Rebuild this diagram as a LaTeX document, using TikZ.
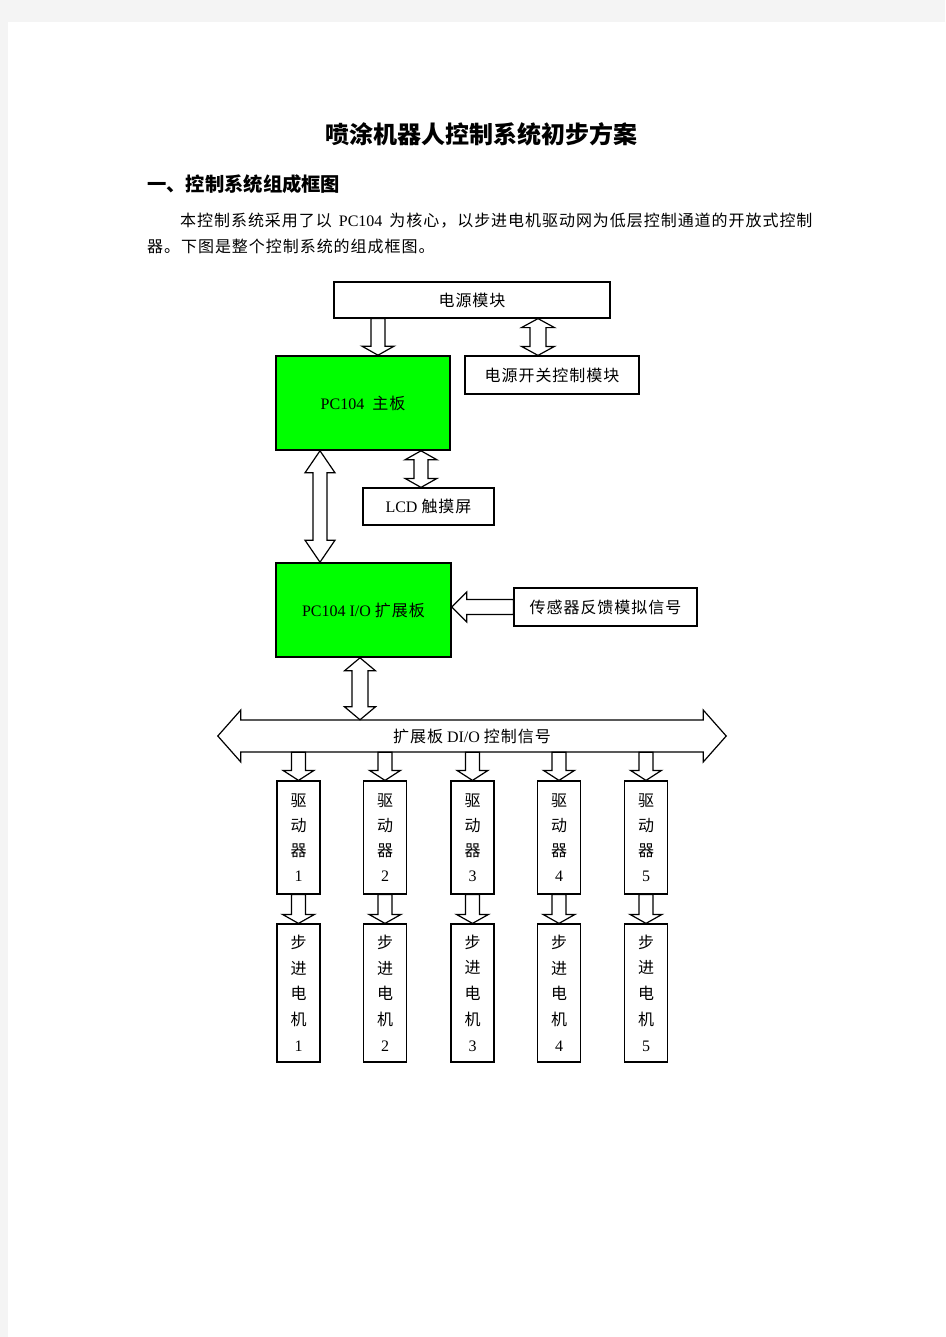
\documentclass[tikz,border=0pt]{standalone}
\usepackage{fontspec}
\setmainfont{Liberation Serif}
\newfontfamily\cjk{Noto Sans CJK SC}[LetterSpace=6]
\newfontfamily\hei{Noto Sans CJK SC}
\usetikzlibrary{calc}

\definecolor{pagegray}{HTML}{F4F4F4}
\definecolor{boardgreen}{HTML}{00FF00}

\tikzset{
  box/.style={draw, line width=1.2pt, inner sep=0pt, font=\fontsize{16}{20}\selectfont},
  board/.style={box, fill=boardgreen, line width=1.6pt},
  drvbox/.style={box, minimum width=43pt, minimum height=113pt, align=center, font=\fontsize{16}{25}\selectfont},
  motorbox/.style={box, minimum width=43pt, minimum height=138pt, align=center, font=\fontsize{16}{25.7}\selectfont},
  hollow/.style n args={3}{line width=1.2pt, to path={
    let \p1=(\tikztostart), \p2=(\tikztotarget),
        \n1={atan2(\y2-\y1,\x2-\x1)}, \n2={veclen(\x2-\x1,\y2-\y1)} in
    {[shift={(\p1)}, rotate=\n1]
     (0pt,#1) -- ({\n2*1pt-#3},#1) -- ({\n2*1pt-#3},#2) -- ({\n2*1pt},0pt)
     -- ({\n2*1pt-#3},-#2) -- ({\n2*1pt-#3},-#1) -- (0pt,-#1) -- cycle}}},
  dhollow/.style n args={3}{line width=1.2pt, to path={
    let \p1=(\tikztostart), \p2=(\tikztotarget),
        \n1={atan2(\y2-\y1,\x2-\x1)}, \n2={veclen(\x2-\x1,\y2-\y1)} in
    {[shift={(\p1)}, rotate=\n1]
     (0pt,0pt) -- (#3,#2) -- (#3,#1) -- ({\n2*1pt-#3},#1) -- ({\n2*1pt-#3},#2)
     -- ({\n2*1pt},0pt) -- ({\n2*1pt-#3},-#2) -- ({\n2*1pt-#3},-#1)
     -- (#3,-#1) -- (#3,-#2) -- cycle}}},
}

\begin{document}
\begin{tikzpicture}[x=1pt,y=-1pt]
\useasboundingbox (0,0) rectangle (945,1337);
\fill[pagegray] (0,0) rectangle (945,1337);
\fill[white] (8,22) rectangle (945,1337);

\node (title) at (481,134) {\hei\bfseries\fontsize{24}{28}\selectfont 喷涂机器人控制系统初步方案};
\node[anchor=west, inner sep=0pt] (heading) at (147,184) {\hei\bfseries\fontsize{19.3}{24}\selectfont 一、控制系统组成框图};
\node[anchor=west, inner sep=0pt, font=\fontsize{16}{20}\selectfont] (line1) at (180,221) {{\cjk 本控制系统采用了以}\hspace{7pt}PC104\hspace{7pt}{\cjk 为核心，以步进电机驱动网为低层控制通道的开放式控制}};
\node[anchor=west, inner sep=0pt, font=\fontsize{16}{20}\selectfont] (line2) at (147,246) {\cjk 器。下图是整个控制系统的组成框图。};

\node[box, minimum width=276pt, minimum height=36pt] (psu) at (472,300) {\cjk 电源模块};
\node[box, minimum width=174pt, minimum height=38pt] (sw) at (552,375) {\cjk 电源开关控制模块};
\node[board, minimum width=174pt, minimum height=94pt] (main) at (363,403) {PC104\hspace{8pt}{\cjk 主板}};
\node[box, minimum width=131pt, minimum height=37pt] (lcd) at (428.5,506.5) {LCD {\cjk 触摸屏}};
\node[board, minimum width=175pt, minimum height=94pt] (io) at (363.5,610) {PC104 I/O {\cjk 扩展板}};
\node[box, minimum width=183pt, minimum height=38pt] (sens) at (605.5,607) {\cjk 传感器反馈模拟信号};
\node[inner sep=0pt, minimum width=508pt, minimum height=32pt, font=\fontsize{16}{20}\selectfont] (bus) at (472,736) {{\cjk 扩展板} DI/O {\cjk 控制信号}};

\node[drvbox] (drv1) at (298.5,837.5) {{\cjk 驱}\\{\cjk 动}\\{\cjk 器}\\1};
\node[drvbox] (drv2) at (385,837.5) {{\cjk 驱}\\{\cjk 动}\\{\cjk 器}\\2};
\node[drvbox] (drv3) at (472.5,837.5) {{\cjk 驱}\\{\cjk 动}\\{\cjk 器}\\3};
\node[drvbox] (drv4) at (559,837.5) {{\cjk 驱}\\{\cjk 动}\\{\cjk 器}\\4};
\node[drvbox] (drv5) at (646,837.5) {{\cjk 驱}\\{\cjk 动}\\{\cjk 器}\\5};
\node[motorbox] (mot1) at (298.5,993) {{\cjk 步}\\{\cjk 进}\\{\cjk 电}\\{\cjk 机}\\1};
\node[motorbox] (mot2) at (385,993) {{\cjk 步}\\{\cjk 进}\\{\cjk 电}\\{\cjk 机}\\2};
\node[motorbox] (mot3) at (472.5,993) {{\cjk 步}\\{\cjk 进}\\{\cjk 电}\\{\cjk 机}\\3};
\node[motorbox] (mot4) at (559,993) {{\cjk 步}\\{\cjk 进}\\{\cjk 电}\\{\cjk 机}\\4};
\node[motorbox] (mot5) at (646,993) {{\cjk 步}\\{\cjk 进}\\{\cjk 电}\\{\cjk 机}\\5};

\coordinate (pa) at ([xshift=15pt]main.north);
\coordinate (pb) at ([xshift=-14pt]sw.north);
\coordinate (pc) at ([xshift=-43pt]main.south);
\coordinate (pd) at ([xshift=-7.5pt]lcd.north);
\coordinate (pe) at ([xshift=-3.5pt]io.south);

\draw[hollow={7pt}{16pt}{9pt}] (psu.south -| pa) to (pa);
\draw[dhollow={8pt}{16.5pt}{9pt}] (psu.south -| pb) to (pb);
\draw[dhollow={7pt}{15pt}{22pt}] (pc) to (io.north -| pc);
\draw[dhollow={7pt}{16pt}{9pt}] (main.south -| pd) to (pd);
\draw[hollow={7.5pt}{15pt}{15pt}] (sens.west) to (io.east |- sens.west);
\draw[dhollow={8pt}{15.5pt}{13pt}] (pe) to (bus.north -| pe);
\draw[dhollow={16pt}{26pt}{23pt}] (bus.west) to (bus.east);

\draw[hollow={7pt}{15.5pt}{10pt}] (bus.south -| drv1.north) to (drv1.north);
\draw[hollow={7pt}{15.5pt}{10pt}] (bus.south -| drv2.north) to (drv2.north);
\draw[hollow={7pt}{15.5pt}{10pt}] (bus.south -| drv3.north) to (drv3.north);
\draw[hollow={7pt}{15.5pt}{10pt}] (bus.south -| drv4.north) to (drv4.north);
\draw[hollow={7pt}{15.5pt}{10pt}] (bus.south -| drv5.north) to (drv5.north);
\draw[hollow={7pt}{16pt}{9pt}] (drv1.south) to (mot1.north);
\draw[hollow={7pt}{16pt}{9pt}] (drv2.south) to (mot2.north);
\draw[hollow={7pt}{16pt}{9pt}] (drv3.south) to (mot3.north);
\draw[hollow={7pt}{16pt}{9pt}] (drv4.south) to (mot4.north);
\draw[hollow={7pt}{16pt}{9pt}] (drv5.south) to (mot5.north);
\end{tikzpicture}
\end{document}
